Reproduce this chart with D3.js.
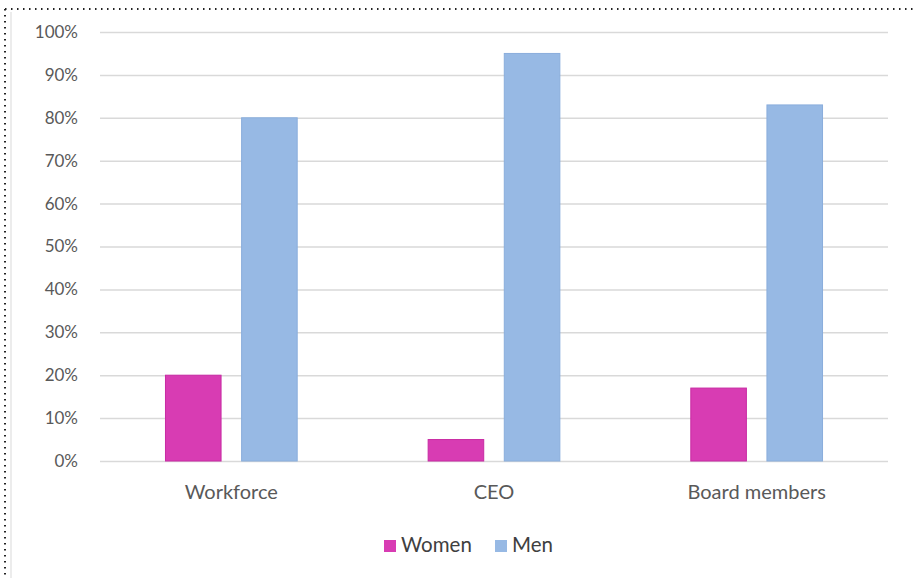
<!DOCTYPE html>
<html>
<head>
<meta charset="utf-8">
<script src="https://cdn.jsdelivr.net/npm/d3@7"></script>
<style>
    body { margin: 0; background: #fff; }
    svg { font-family: Lato, "Open Sans", sans-serif; }
    .tick text { fill: #595959; }
</style>
</head>
<body>
<div id="container"></div>
<script>
const categories = ['Workforce', 'CEO', 'Board members'];
const seriesNames = ['Women', 'Men'];
const women = [20, 5, 17];
const men = [80, 95, 83];
const yTicks = [0, 10, 20, 30, 40, 50, 60, 70, 80, 90, 100];

const colors = { Women: '#d83cb3', Men: '#97b9e4' };
const strokes = { Women: '#c82aa3', Men: '#8aaedc' };

const W = 914, H = 578;
const svg = d3.select('#container').append('svg')
    .attr('width', W)
    .attr('height', H);

// dotted frame at top and left
svg.append('line')
    .attr('x1', 5).attr('y1', 9).attr('x2', W).attr('y2', 9)
    .attr('stroke', '#222').attr('stroke-width', 2)
    .attr('stroke-dasharray', '1.5,4.5');
svg.append('line')
    .attr('x1', 5).attr('y1', 9).attr('x2', 5).attr('y2', H)
    .attr('stroke', '#222').attr('stroke-width', 2)
    .attr('stroke-dasharray', '1.5,4.5');
svg.append('line')
    .attr('x1', 11).attr('y1', 12).attr('x2', 11).attr('y2', H)
    .attr('stroke', '#e6e6e6').attr('stroke-width', 1.5);

const plotLeft = 100, plotRight = 888, plotTop = 32, plotBottom = 461;

const xScale = d3.scaleBand()
    .domain(categories)
    .range([plotLeft, plotRight]);

const xInner = d3.scaleBand()
    .domain(seriesNames)
    .range([0, xScale.bandwidth()])
    .paddingInner(0.27)
    .paddingOuter(0.86);

const yScale = d3.scaleLinear()
    .domain([0, 100])
    .range([plotBottom, plotTop]);

// gridlines
svg.append('g')
    .selectAll('line')
    .data(yTicks)
    .enter()
    .append('line')
    .attr('x1', plotLeft)
    .attr('x2', plotRight)
    .attr('y1', d => yScale(d) + 0.5)
    .attr('y2', d => yScale(d) + 0.5)
    .attr('stroke', '#d9d9d9')
    .attr('stroke-width', 1.5);

// y axis labels
const yAxis = svg.append('g')
    .attr('transform', `translate(${plotLeft - 19}, 0)`)
    .call(d3.axisLeft(yScale).tickValues(yTicks).tickSize(0).tickFormat(d => d + '%'));
yAxis.select('.domain').remove();
yAxis.selectAll('text')
    .attr('font-size', 17)
    .attr('font-family', 'Lato, "Open Sans", sans-serif');

// bars
const rows = categories.map((c, i) => ({ cat: c, Women: women[i], Men: men[i] }));

const groups = svg.append('g')
    .selectAll('g')
    .data(rows)
    .enter()
    .append('g')
    .attr('transform', d => `translate(${xScale(d.cat)}, 0)`);

groups.selectAll('rect')
    .data(d => seriesNames.map(s => ({ key: s, value: d[s] })))
    .enter()
    .append('rect')
    .attr('x', d => xInner(d.key))
    .attr('y', d => yScale(d.value))
    .attr('width', xInner.bandwidth())
    .attr('height', d => plotBottom - yScale(d.value))
    .attr('fill', d => colors[d.key])
    .attr('stroke', d => strokes[d.key])
    .attr('stroke-width', 1);

// x axis labels
const xAxis = svg.append('g')
    .attr('transform', `translate(0, ${plotBottom + 21})`)
    .call(d3.axisBottom(xScale).tickSize(0));
xAxis.select('.domain').remove();
xAxis.selectAll('text')
    .attr('font-size', 20)
    .attr('font-family', 'Lato, "Open Sans", sans-serif')
    .attr('fill', '#404040');

// legend
const legendItems = [
    { key: 'Women', x: 384 },
    { key: 'Men', x: 495 }
];
const legend = svg.append('g')
    .selectAll('g')
    .data(legendItems)
    .enter()
    .append('g')
    .attr('transform', d => `translate(${d.x}, 538)`);

legend.append('rect')
    .attr('width', 12)
    .attr('height', 12)
    .attr('y', 2)
    .attr('fill', d => colors[d.key]);

legend.append('text')
    .attr('x', 17)
    .attr('y', 14)
    .attr('font-size', 20.5)
    .attr('fill', '#404040')
    .text(d => d.key);
</script>
</body>
</html>
